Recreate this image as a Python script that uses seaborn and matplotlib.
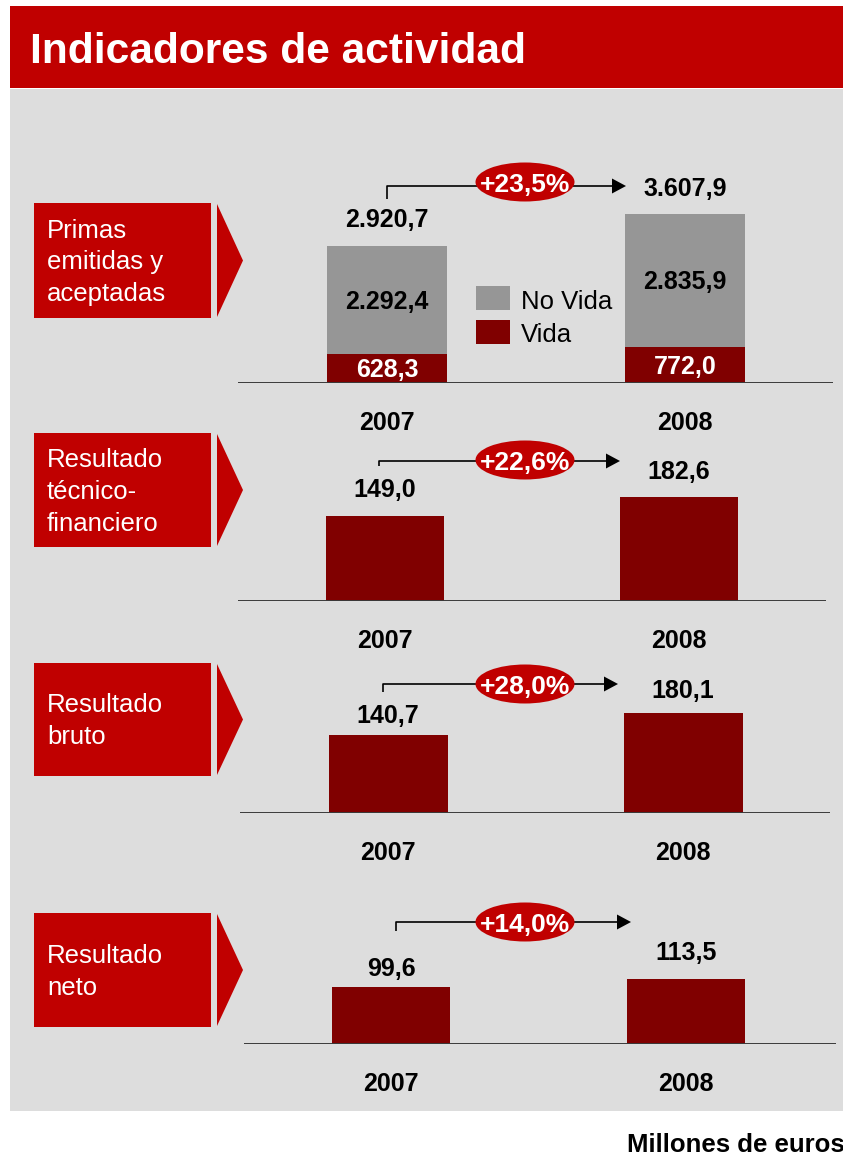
import matplotlib
matplotlib.use("Agg")
import matplotlib.pyplot as plt
from matplotlib.patches import Rectangle, Polygon, Ellipse
import seaborn as sns
import pandas as pd

# ---- data (millones de euros) ----
years = ["2007", "2008"]
primas_vida = [628.3, 772.0]
primas_no_vida = [2292.4, 2835.9]
resultado_tecnico = [149.0, 182.6]
resultado_bruto = [140.7, 180.1]
resultado_neto = [99.6, 113.5]

panel_titles = [
    ["Primas", "emitidas y", "aceptadas"],
    ["Resultado", "técnico-", "financiero"],
    ["Resultado", "bruto"],
    ["Resultado", "neto"],
]
legend_labels = ["No Vida", "Vida"]
title = "Indicadores de actividad"
units = "Millones de euros"

# ---- style ----
RED = "#C00000"
DARK = "#800000"
GREY = "#969696"
BG = "#DDDDDD"
FONT = ["Liberation Sans", "DejaVu Sans"]

sns.set_style("white")
plt.rcParams["font.family"] = FONT

W, H = 843, 1157
DPI = 100
PX = 72.0 / DPI  # points per pixel


def fmt(v, dec=1):
    s = f"{v:,.{dec}f}"
    return s.replace(",", "X").replace(".", ",").replace("X", ".")


# pixel layout of each panel
layout = [
    dict(box=(203, 318), base=383, top=160, line=(238, 833), centers=(387, 685),
         barw=120, lab=(19, 18), arrow=(387, 199, 186, 626), ell=182),
    dict(box=(433, 547), base=601, top=430, line=(238, 826), centers=(385, 679),
         barw=118, lab=(19, 18), arrow=(379, 466, 461, 620), ell=460),
    dict(box=(663, 776), base=813, top=655, line=(240, 830), centers=(388, 683),
         barw=119, lab=(12, 15), arrow=(383, 692, 684, 618), ell=684),
    dict(box=(913, 1027), base=1044, top=900, line=(244, 836), centers=(391, 686),
         barw=118, lab=(11, 19), arrow=(396, 931, 922, 631), ell=922),
]
# pixels per unit of value in each panel
ppu = [169 / 3607.9, 104 / 182.6, 100 / 180.1, 65 / 113.5]

fig = plt.figure(figsize=(W / DPI, H / DPI), dpi=DPI)
fig.patch.set_facecolor("white")

# background canvas in pixel coordinates
bg = fig.add_axes([0, 0, 1, 1])
bg.set_xlim(0, W)
bg.set_ylim(H, 0)
bg.axis("off")

bg.add_patch(Rectangle((10, 6), W - 10, 82, color=RED, lw=0))
bg.add_patch(Rectangle((10, 89), W - 10, 1022, color=BG, lw=0))
bg.text(30, 63, title, color="white", fontsize=30.6, fontweight="bold",
        ha="left", va="baseline")
bg.text(627, 1152, units, color="black", fontsize=18.5, fontweight="bold",
        ha="left", va="baseline")

series = [
    (primas_vida, primas_no_vida),
    resultado_tecnico,
    resultado_bruto,
    resultado_neto,
]

bar_kw = dict(saturation=1, errorbar=None, linewidth=0, edgecolor="none")

for k, lay in enumerate(layout):
    btop, bbot = lay["box"]
    # red label box with arrow tip
    bg.add_patch(Rectangle((34, btop), 177, bbot - btop, color=RED, lw=0))
    bg.add_patch(Polygon([[217, btop + 1], [243, (btop + bbot) / 2], [217, bbot - 1]],
                         closed=True, color=RED, lw=0))
    lines = panel_titles[k]
    mid = (btop + bbot) / 2
    for i, t in enumerate(lines):
        yc = mid + (i - (len(lines) - 1) / 2) * 32
        bg.text(47, yc + 9, t, color="white", fontsize=18.5, ha="left", va="baseline")

    # bar axes
    L, R = lay["line"]
    c0, c1 = lay["centers"]
    hpx = lay["base"] - lay["top"]
    ax = fig.add_axes([L / W, 1 - lay["base"] / H, (R - L) / W, hpx / H])
    unit = c1 - c0
    ax.patch.set_visible(False)

    if k == 0:
        vida, no_vida = series[0]
        totals = [a + b for a, b in zip(vida, no_vida)]
        df_tot = pd.DataFrame({"year": years, "value": totals})
        df_vida = pd.DataFrame({"year": years, "value": vida})
        sns.barplot(data=df_tot, x="year", y="value", color=GREY,
                    width=lay["barw"] / unit, ax=ax, **bar_kw)
        sns.barplot(data=df_vida, x="year", y="value", color=DARK,
                    width=lay["barw"] / unit, ax=ax, **bar_kw)
        values = totals
        for i in range(2):
            ax.annotate(fmt(no_vida[i]), xy=(i, vida[i] + no_vida[i] / 2),
                        xytext=(0, -9 * PX), textcoords="offset points",
                        ha="center", va="baseline", fontsize=18, fontweight="bold",
                        color="black")
            ax.annotate(fmt(vida[i]), xy=(i, vida[i] / 2),
                        xytext=(0, -9 * PX), textcoords="offset points",
                        ha="center", va="baseline", fontsize=18, fontweight="bold",
                        color="white")
    else:
        values = series[k]
        df = pd.DataFrame({"year": years, "value": values})
        sns.barplot(data=df, x="year", y="value", color=DARK,
                    width=lay["barw"] / unit, ax=ax, **bar_kw)

    ax.set_xlim(-(c0 - L) / unit, 1 + (R - c1) / unit)
    ax.set_ylim(0, hpx / ppu[k])
    ax.axis("off")
    ax.axhline(0, color="#3a3a3a", lw=1.4, zorder=5)

    for i in range(2):
        ax.annotate(fmt(values[i]), xy=(i, values[i]),
                    xytext=(0, lay["lab"][i] * PX), textcoords="offset points",
                    ha="center", va="baseline", fontsize=18, fontweight="bold",
                    color="black")
        ax.annotate(years[i], xy=(i, 0), xytext=(0, -47 * PX),
                    textcoords="offset points", ha="center", va="baseline",
                    fontsize=18, fontweight="bold", color="black")

    # growth arrow with percentage badge
    x0, ystub, yline, tip = lay["arrow"]
    head, hw = 14, 7.5
    bg.plot([x0, x0, tip - head], [ystub, yline, yline], color="black", lw=1.2,
            solid_capstyle="butt", zorder=2)
    bg.add_patch(Polygon([[tip - head, yline - hw], [tip, yline], [tip - head, yline + hw]],
                         closed=True, color="black", lw=0, zorder=2))
    bg.add_patch(Ellipse((525, lay["ell"]), 99, 39, color=RED, lw=0, zorder=3))
    growth = (values[1] / values[0] - 1) * 100
    bg.text(525, lay["ell"] + 9.5, "+" + fmt(growth) + "%", color="white",
            fontsize=19, fontweight="bold", ha="center", va="baseline", zorder=4)

# legend of the first panel
bg.add_patch(Rectangle((476, 286), 34, 24, color=GREY, lw=0))
bg.add_patch(Rectangle((476, 320), 34, 24, color=DARK, lw=0))
bg.text(521, 309, legend_labels[0], fontsize=18.5, ha="left", va="baseline", color="black")
bg.text(521, 342, legend_labels[1], fontsize=18.5, ha="left", va="baseline", color="black")

fig.savefig("out.png", dpi=DPI, facecolor="white")
